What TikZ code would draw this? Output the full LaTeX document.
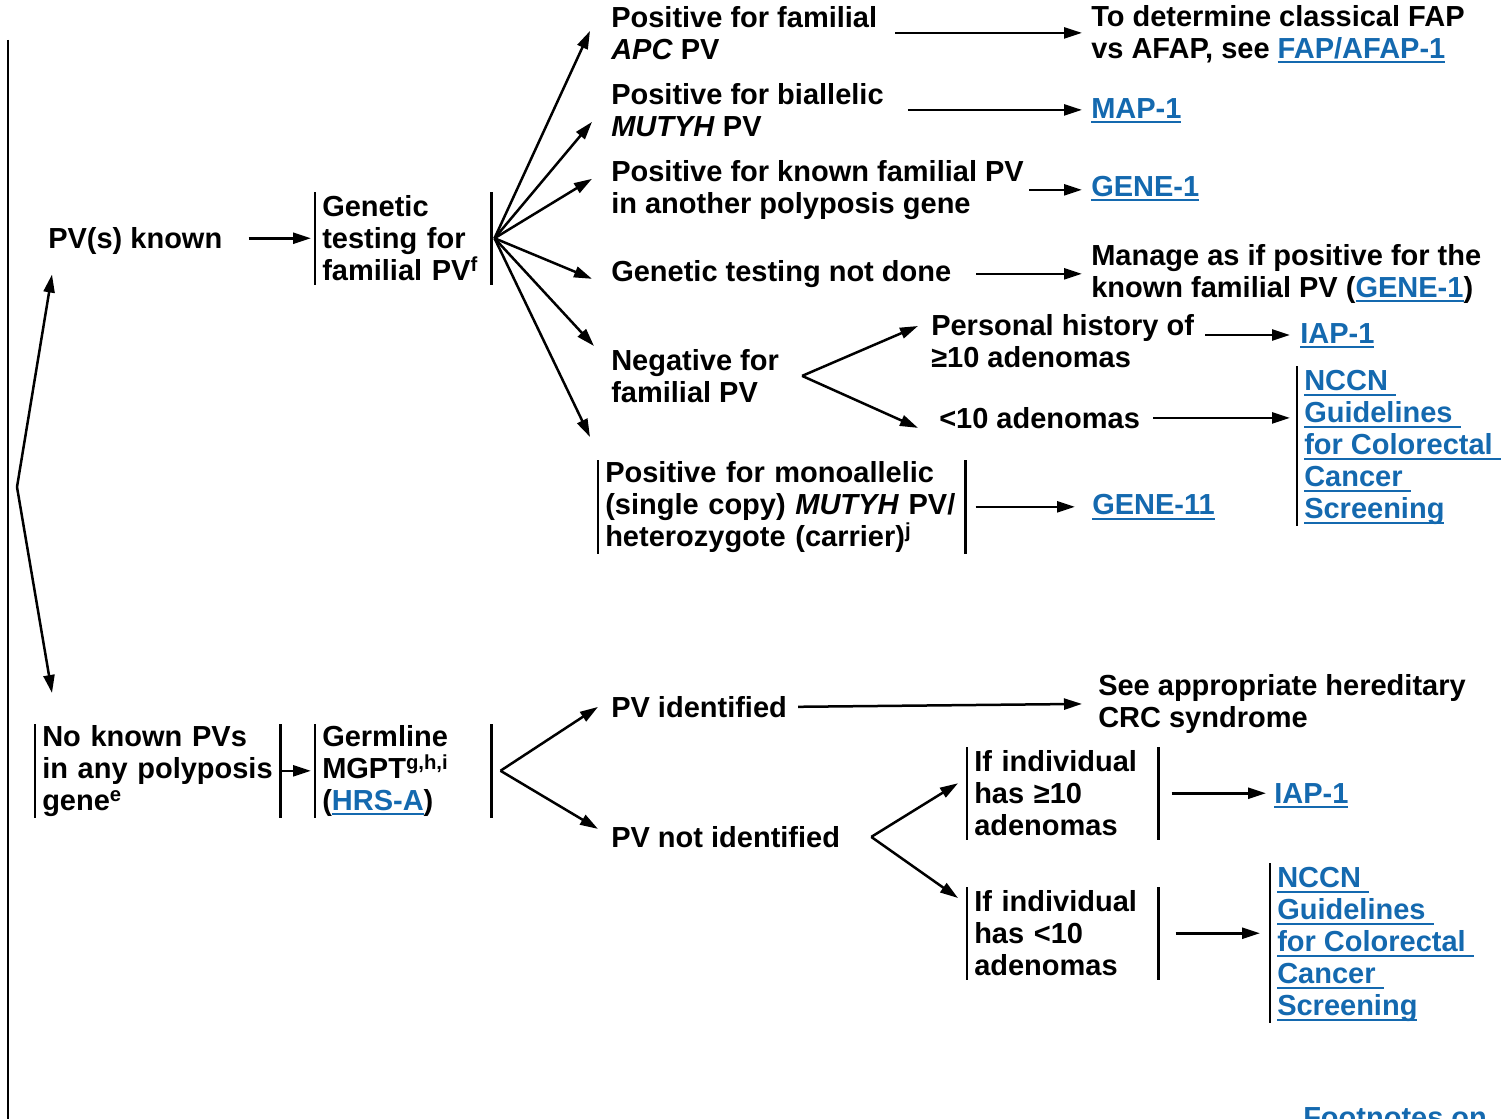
\documentclass[tikz,border=0pt]{standalone}
\usepackage{fontspec}
\setmainfont{Liberation Sans}
\usetikzlibrary{arrows.meta}

\definecolor{linkblue}{RGB}{20,105,175}
\newcommand\lnk[1]{\textcolor{linkblue}{\setbox0\hbox{#1}\rlap{\rule[-5pt]{\wd0}{2pt}}\box0}}

\tikzset{
  txt/.style={anchor=north west, inner sep=0pt, align=left},
  barbox/.style={anchor=north west, inner xsep=6pt, inner ysep=0pt, minimum height=90pt, align=left},
  arr/.style={-{Triangle[length=18pt,width=11pt]}},
}

\begin{document}
\begin{tikzpicture}[x=1pt, y=-1pt, line width=2.5pt,
    every node/.style={font=\fontsize{29}{32}\selectfont\bfseries}]
        \useasboundingbox (0,0) rectangle (1511,1118);
        \draw (8,40) -- (8,1130);

        % known PVs
        \node[txt] (pvk) at (47,226) {PV(s) known};
        \node[barbox, text width=162pt] (gtest) at (315,192) {Genetic\\testing for\\familial PV\textsuperscript{f}};
        \node[txt] (famapc) at (610,5) {Positive for familial\\\textit{APC} PV};
        \node[txt] (fap) at (1090,4) {To determine classical FAP\\vs AFAP, see \lnk{FAP/AFAP-1}};
        \node[txt] (bimutyh) at (610,82) {Positive for biallelic\\\textit{MUTYH} PV};
        \node[txt] (map) at (1090,97) {\lnk{MAP-1}};
        \node[txt] (known) at (610,159) {Positive for known familial PV\\in another polyposis gene};
        \node[txt] (gene1) at (1090,175) {\lnk{GENE-1}};
        \node[txt] (notdone) at (610,259) {Genetic testing not done};
        \node[txt] (manage) at (1090,243) {Manage as if positive for the\\known familial PV (\lnk{GENE-1})};
        \node[txt] (neg) at (610,348) {Negative for\\familial PV};
        \node[txt] (pers) at (930,313) {Personal history of\\≥10 adenomas};
        \node[txt] (iapa) at (1299,322) {\lnk{IAP-1}};
        \node[txt] (ltten) at (938,406) {<10 adenomas};
        \node[txt] (nccna) at (1303,369) {\lnk{NCCN\ }\\\lnk{Guidelines\ }\\\lnk{for Colorectal\ }\\\lnk{Cancer\ }\\\lnk{Screening}};
        \node[barbox, text width=353pt] (mono) at (598,460) {Positive for monoallelic\\(single copy) \textit{MUTYH} PV/\\heterozygote (carrier)\textsuperscript{j}};
        \node[txt] (geneb) at (1091,493) {\lnk{GENE-11}};

        % no known PVs
        \node[barbox, text width=231pt] (noknown) at (35,724) {No known PVs\\in any polyposis\\gene\textsuperscript{e}};
        \node[barbox, text width=162pt] (mgpt) at (315,724) {Germline\\MGPT\textsuperscript{g,h,i}\\(\lnk{HRS-A})};
        \node[txt] (pvid) at (610,695) {PV identified};
        \node[txt] (seecrc) at (1097,673) {See appropriate hereditary\\CRC syndrome};
        \node[txt] (pvnot) at (610,825) {PV not identified};
        \node[barbox, text width=177pt] (ifge) at (967,747) {If individual\\has ≥10\\adenomas};
        \node[txt] (iapb) at (1273,782) {\lnk{IAP-1}};
        \node[barbox, text width=177pt] (iflt) at (967,887) {If individual\\has <10\\adenomas};
        \node[txt] (nccnb) at (1276,866) {\lnk{NCCN\ }\\\lnk{Guidelines\ }\\\lnk{for Colorectal\ }\\\lnk{Cancer\ }\\\lnk{Screening}};
        \node[txt] (foot) at (1302,1106) {\lnk{Footnotes on}};

        % bars
        \foreach \b in {gtest,mono,noknown,mgpt,ifge,iflt} {
                \draw (\b.north west) -- (\b.south west);
                \draw (\b.north east) -- (\b.south east);
        }
        \foreach \b in {nccna,nccnb}
                \draw ([xshift=-6pt,yshift=3pt]\b.north west) -- ([xshift=-6pt]\b.south west);

        % left split
        \coordinate (lb) at (17,487);
        \draw[arr] (lb) -- ([xshift=5pt,yshift=-19pt]pvk.south west);
        \draw[arr] (lb) -- ([xshift=17pt,yshift=31pt]noknown.north west);

        % upper arrows
        \draw[arr, shorten <=25pt, shorten >=4pt] (pvk.east |- gtest.west) -- (gtest.west);
        \coordinate (gfan) at ([xshift=3pt]gtest.east);
        \draw[arr] (gfan) -- ([xshift=-20pt,yshift=2pt]famapc.west);
        \draw[arr] (gfan) -- ([xshift=-18pt,yshift=-12pt]bimutyh.west);
        \draw[arr] (gfan) -- ([xshift=-18pt,yshift=11pt]known.west);
        \draw[arr] (gfan) -- ([xshift=-18pt,yshift=-5pt]notdone.west);
        \draw[arr] (gfan) -- ([xshift=-16pt,yshift=2pt]neg.north west);
        \draw[arr] (gfan) -- ([xshift=-8pt,yshift=23pt]mono.north west);
        \draw[arr, shorten <=17pt, shorten >=8pt] (famapc.east) -- (famapc.east -| fap.west);
        \draw[arr, shorten <=23pt, shorten >=8pt] (bimutyh.east) -- (bimutyh.east -| map.west);
        \draw[arr, shorten <=4pt, shorten >=8pt] (known.east) -- (known.east -| gene1.west);
        \draw[arr, shorten <=24pt, shorten >=8pt] (notdone.east) -- (notdone.east -| manage.west);
        \coordinate (nfan) at ([xshift=22pt]neg.east);
        \draw[arr] (nfan) -- ([xshift=-12pt,yshift=-13pt]pers.north west);
        \draw[arr] (nfan) -- ([xshift=-20pt,yshift=-10pt]ltten.west);
        \draw[arr, shorten <=10pt, shorten >=9pt] ([yshift=-22pt]pers.north east) -- ([yshift=-22pt]pers.north east -| iapa.west);
        \draw[arr, shorten <=12pt, shorten >=13pt] (ltten.east) -- (ltten.east -| nccna.west);
        \draw[arr, shorten <=10pt, shorten >=16pt] (mono.east) -- (mono.east -| geneb.west);

        % lower arrows
        \draw[arr, shorten >=4pt] (noknown.east) -- (noknown.east -| mgpt.west);
        \coordinate (mfan) at ([xshift=9pt]mgpt.east);
        \draw[arr] (mfan) -- ([xshift=-12pt]pvid.west);
        \draw[arr] (mfan) -- ([xshift=-12pt,yshift=8pt]pvnot.west);
        \draw[arr, shorten <=10pt, shorten >=15pt] (pvid.east) -- (seecrc.west);
        \coordinate (pfan) at ([xshift=30pt]pvnot.east);
        \draw[arr] (pfan) -- ([xshift=-9pt,yshift=10pt]ifge.west);
        \draw[arr] (pfan) -- ([xshift=-9pt,yshift=-11pt]iflt.north west);
        \draw[arr, shorten <=13pt, shorten >=7pt] (ifge.east) -- (ifge.east -| iapb.west);
        \draw[arr, shorten <=17pt, shorten >=16pt] (iflt.east) -- (iflt.east -| nccnb.west);
\end{tikzpicture}
\end{document}
